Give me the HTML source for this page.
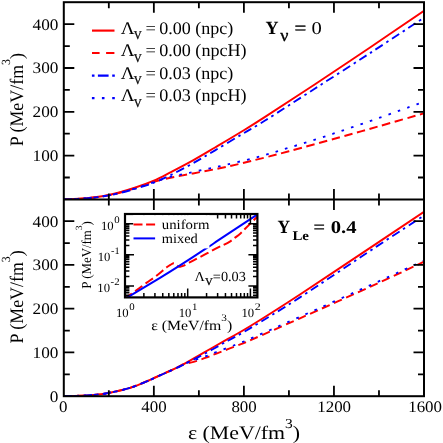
<!DOCTYPE html>
<html><head><meta charset="utf-8"><title>EOS</title><style>html,body{margin:0;padding:0;background:#fff;}text{font-family:"Liberation Serif",serif;text-rendering:geometricPrecision;}body{width:443px;height:443px;overflow:hidden;font-family:"Liberation Serif",serif;}</style></head><body>
<svg width="443" height="443" viewBox="0 0 443 443" style="display:block;will-change:transform">
<rect width="443" height="443" fill="#fff"/>
<defs><clipPath id="c1"><rect x="63.80" y="2.20" width="360.20" height="197.20"/></clipPath><clipPath id="c2"><rect x="63.80" y="199.40" width="360.20" height="196.80"/></clipPath></defs>
<g clip-path="url(#c1)">
<path d="M63.80 199.40 C67.55 199.22 78.81 199.03 86.31 198.31 C93.82 197.58 100.87 196.74 108.82 195.02 C116.78 193.30 126.53 190.40 134.04 188.01 C141.54 185.62 147.70 183.35 153.85 180.70 C160.00 178.05 164.43 175.49 170.96 172.11 C177.49 168.73 185.67 164.52 193.02 160.42 C200.38 156.32 206.75 152.44 215.08 147.50 C223.41 142.55 234.67 135.88 243.00 130.77 C251.33 125.66 253.06 124.60 265.06 116.84 C277.07 109.08 297.48 95.81 315.04 84.21 C332.60 72.60 352.26 59.44 370.42 47.19 C388.58 34.95 415.07 16.79 424.00 10.71" fill="none" stroke="#ff0000" stroke-width="1.95"/>
<path d="M63.80 199.40 C67.55 199.22 78.81 199.00 86.31 198.31 C93.82 197.61 101.32 196.74 108.82 195.24 C116.33 193.74 123.83 191.55 131.34 189.33 C138.84 187.10 149.20 183.38 153.85 181.88 C158.50 180.38 156.48 181.04 159.25 180.35 C162.03 179.65 164.88 178.87 170.51 177.72 C176.14 176.57 184.62 175.05 193.02 173.43 C201.43 171.81 211.44 170.02 220.94 168.00 C230.43 165.97 238.65 164.09 249.98 161.29 C261.31 158.50 273.92 155.24 288.93 151.22 C303.93 147.20 325.02 141.37 340.03 137.20 C355.04 133.04 364.98 130.23 378.98 126.25 C392.97 122.28 416.50 115.49 424.00 113.33" fill="none" stroke="#ff0000" stroke-width="1.95" stroke-dasharray="8.5 4.6" stroke-dashoffset="0"/>
<path d="M63.80 199.40 C67.55 199.22 78.81 198.97 86.31 198.31 C93.82 197.64 100.87 196.90 108.82 195.39 C116.78 193.87 126.53 191.33 134.04 189.21 C141.54 187.09 147.70 185.04 153.85 182.67 C160.00 180.29 164.43 178.19 170.96 174.96 C177.49 171.73 185.67 167.37 193.02 163.26 C200.38 159.16 206.75 155.29 215.08 150.34 C223.41 145.40 234.67 138.58 243.00 133.61 C251.33 128.65 253.06 128.06 265.06 120.55 C277.07 113.03 297.48 99.80 315.04 88.52 C332.60 77.24 352.26 64.67 370.42 52.87 C388.58 41.07 415.07 23.58 424.00 17.72" fill="none" stroke="#0000ff" stroke-width="1.85" stroke-dasharray="8.6 4.2 2.5 4.2" stroke-dashoffset="0"/>
<path d="M63.80 199.40 C67.55 199.23 78.81 199.05 86.31 198.39 C93.82 197.74 101.32 196.93 108.82 195.46 C116.33 193.98 123.83 191.77 131.34 189.55 C138.84 187.32 147.40 184.22 153.85 182.10 C160.30 179.98 164.13 178.39 170.06 176.84 C175.99 175.30 183.00 174.19 189.42 172.81 C195.84 171.44 203.64 169.67 208.56 168.61 C213.47 167.55 210.77 168.38 218.91 166.46 C227.05 164.55 245.74 160.26 257.41 157.13 C269.08 154.01 276.28 151.62 288.93 147.72 C301.57 143.81 318.27 138.66 333.27 133.70 C348.28 128.74 365.05 122.82 378.98 117.93 C392.90 113.04 409.29 107.06 416.80 104.35 C424.30 101.65 422.80 102.16 424.00 101.73" fill="none" stroke="#0000ff" stroke-width="1.85" stroke-dasharray="2.6 7.3" stroke-dashoffset="0"/>
</g>
<g clip-path="url(#c2)">
<path d="M63.80 396.20 C67.55 396.08 80.27 395.79 86.31 395.46 C92.35 395.12 96.29 394.61 100.05 394.19 C103.80 393.76 103.83 393.97 108.82 392.92 C113.82 391.87 123.12 390.06 129.99 387.89 C136.85 385.71 145.67 381.67 150.02 379.88 C154.38 378.09 151.45 379.23 156.10 377.12 C160.75 375.02 170.13 371.24 177.94 367.24 C185.74 363.23 194.60 357.83 202.93 353.11 C211.26 348.38 220.07 343.36 227.92 338.89 C235.76 334.42 237.97 333.69 249.98 326.29 C261.99 318.89 278.94 308.23 299.96 294.48 C320.97 280.74 355.37 257.60 376.05 243.82 C396.72 230.04 416.01 217.13 424.00 211.79" fill="none" stroke="#ff0000" stroke-width="1.95"/>
<path d="M63.80 396.20 C67.55 396.08 80.27 395.79 86.31 395.46 C92.35 395.12 96.29 394.61 100.05 394.19 C103.80 393.76 103.83 393.97 108.82 392.92 C113.82 391.87 123.12 390.06 129.99 387.89 C136.85 385.71 145.67 381.67 150.02 379.88 C154.38 378.09 151.45 379.23 156.10 377.12 C160.75 375.02 173.47 369.34 177.94 367.24 C182.40 365.13 180.26 365.38 182.89 364.48 C185.52 363.58 189.83 362.99 193.70 361.86 C197.56 360.73 202.29 359.09 206.08 357.70 C209.87 356.31 210.51 355.84 216.43 353.54 C222.36 351.25 235.57 346.32 241.65 343.92 C247.73 341.51 243.19 343.37 252.90 339.11 C262.62 334.84 279.43 327.49 299.96 318.32 C320.48 309.16 355.37 293.56 376.05 284.11 C396.72 274.67 416.01 265.41 424.00 261.67" fill="none" stroke="#ff0000" stroke-width="1.95" stroke-dasharray="8.5 4.6" stroke-dashoffset="0"/>
<path d="M63.80 396.20 C67.55 396.08 80.27 395.79 86.31 395.46 C92.35 395.12 96.29 394.61 100.05 394.19 C103.80 393.76 103.83 393.97 108.82 392.92 C113.82 391.87 123.12 390.06 129.99 387.89 C136.85 385.71 145.67 381.67 150.02 379.88 C154.38 378.09 151.45 379.21 156.10 377.12 C160.75 375.04 170.13 371.09 177.94 367.34 C185.74 363.60 194.60 359.12 202.93 354.68 C211.26 350.24 220.07 345.08 227.92 340.70 C235.76 336.32 237.97 335.59 249.98 328.37 C261.99 321.15 278.94 310.96 299.96 297.38 C320.97 283.80 355.37 260.53 376.05 246.88 C396.72 233.24 416.01 220.74 424.00 215.51" fill="none" stroke="#0000ff" stroke-width="1.85" stroke-dasharray="8.6 4.2 2.5 4.2" stroke-dashoffset="0"/>
<path d="M63.80 396.20 C67.55 396.08 80.27 395.79 86.31 395.46 C92.35 395.12 96.29 394.61 100.05 394.19 C103.80 393.76 103.83 393.97 108.82 392.92 C113.82 391.87 123.12 390.06 129.99 387.89 C136.85 385.71 145.67 381.67 150.02 379.88 C154.38 378.09 151.45 379.23 156.10 377.12 C160.75 375.02 173.47 369.34 177.94 367.24 C182.40 365.13 180.26 365.63 182.89 364.48 C185.52 363.33 189.83 361.71 193.70 360.32 C197.56 358.94 202.29 357.55 206.08 356.17 C209.87 354.78 210.51 354.31 216.43 352.01 C222.36 349.72 235.57 344.79 241.65 342.39 C247.73 339.98 243.19 341.84 252.90 337.57 C262.62 333.31 279.43 325.96 299.96 316.79 C320.48 307.63 355.37 291.95 376.05 282.58 C396.72 273.21 416.01 264.24 424.00 260.57" fill="none" stroke="#0000ff" stroke-width="1.85" stroke-dasharray="2.6 7.3" stroke-dashoffset="0"/>
</g>
<g stroke="#000" fill="none" stroke-linecap="butt">
<rect x="63.80" y="2.20" width="360.20" height="394.00" stroke-width="2.00"/>
<line x1="63.80" y1="199.40" x2="424.00" y2="199.40" stroke-width="2.00"/>
<path stroke-width="1.80" d="M108.82 2.20 L108.82 8.20 M108.82 193.40 L108.82 205.40 M108.82 390.20 L108.82 396.20 M153.85 2.20 L153.85 12.70 M153.85 188.90 L153.85 209.90 M153.85 385.70 L153.85 396.20 M198.88 2.20 L198.88 8.20 M198.88 193.40 L198.88 205.40 M198.88 390.20 L198.88 396.20 M243.90 2.20 L243.90 12.70 M243.90 188.90 L243.90 209.90 M243.90 385.70 L243.90 396.20 M288.93 2.20 L288.93 8.20 M288.93 193.40 L288.93 205.40 M288.93 390.20 L288.93 396.20 M333.95 2.20 L333.95 12.70 M333.95 188.90 L333.95 209.90 M333.95 385.70 L333.95 396.20 M378.98 2.20 L378.98 8.20 M378.98 193.40 L378.98 205.40 M378.98 390.20 L378.98 396.20 M63.80 177.50 L69.80 177.50 M418.00 177.50 L424.00 177.50 M63.80 374.32 L69.80 374.32 M418.00 374.32 L424.00 374.32 M63.80 155.60 L74.30 155.60 M413.50 155.60 L424.00 155.60 M63.80 352.45 L74.30 352.45 M413.50 352.45 L424.00 352.45 M63.80 133.70 L69.80 133.70 M418.00 133.70 L424.00 133.70 M63.80 330.57 L69.80 330.57 M418.00 330.57 L424.00 330.57 M63.80 111.80 L74.30 111.80 M413.50 111.80 L424.00 111.80 M63.80 308.70 L74.30 308.70 M413.50 308.70 L424.00 308.70 M63.80 89.90 L69.80 89.90 M418.00 89.90 L424.00 89.90 M63.80 286.82 L69.80 286.82 M418.00 286.82 L424.00 286.82 M63.80 68.00 L74.30 68.00 M413.50 68.00 L424.00 68.00 M63.80 264.95 L74.30 264.95 M413.50 264.95 L424.00 264.95 M63.80 46.10 L69.80 46.10 M418.00 46.10 L424.00 46.10 M63.80 243.07 L69.80 243.07 M418.00 243.07 L424.00 243.07 M63.80 24.20 L74.30 24.20 M413.50 24.20 L424.00 24.20 M63.80 221.20 L74.30 221.20 M413.50 221.20 L424.00 221.20"/>
</g>
<rect x="125.00" y="214.00" width="132.40" height="83.40" fill="#fff"/>
<defs><clipPath id="c3"><rect x="125.00" y="214.00" width="132.40" height="83.40"/></clipPath></defs>
<g clip-path="url(#c3)">
<path d="M124.50 298.70 C124.98 298.33 125.43 297.88 127.40 296.50 C129.37 295.12 133.13 292.67 136.30 290.40 C139.47 288.13 142.98 285.38 146.40 282.90 C149.82 280.42 153.42 278.10 156.80 275.50 C160.18 272.90 164.33 269.13 166.70 267.30 C169.07 265.47 169.82 265.18 171.00 264.50 C172.18 263.82 172.93 263.15 173.80 263.20 C174.67 263.25 175.38 264.23 176.20 264.80 C177.02 265.37 177.82 266.35 178.70 266.60 C179.58 266.85 180.55 266.50 181.50 266.30 C182.45 266.10 183.13 266.00 184.40 265.40 C185.67 264.80 187.18 263.75 189.10 262.70 C191.02 261.65 192.85 260.68 195.90 259.10 C198.95 257.52 203.68 255.17 207.40 253.20 C211.12 251.23 215.52 248.67 218.20 247.30 C220.88 245.93 221.48 246.00 223.50 245.00 C225.52 244.00 228.48 242.43 230.30 241.30 C232.12 240.17 232.70 239.52 234.40 238.20 C236.10 236.88 238.92 234.77 240.50 233.40 C242.08 232.03 242.43 231.47 243.90 230.00 C245.37 228.53 247.17 226.73 249.30 224.60 C251.43 222.47 255.17 218.72 256.70 217.20 C258.23 215.68 258.20 215.78 258.50 215.50" fill="none" stroke="#ff0000" stroke-width="2" stroke-dasharray="9 4"/>
<path d="M123.00 300.20 C124.08 299.53 123.33 299.93 129.50 296.20 C135.67 292.47 151.58 282.95 160.00 277.80 C168.42 272.65 172.00 270.40 180.00 265.30 C188.00 260.20 201.33 251.55 208.00 247.20 C214.67 242.85 211.87 244.58 220.00 239.20 C228.13 233.82 250.22 219.25 256.80 214.90 C263.38 210.55 259.05 213.40 259.50 213.10" fill="none" stroke="#0000ff" stroke-width="2"/>
</g>
<g stroke="#000" fill="none">
<rect x="125.00" y="214.00" width="132.40" height="83.40" stroke-width="2.2"/>
<path stroke-width="1.5" d="M143.87 297.40 L143.87 293.00 M143.87 214.00 L143.87 218.40 M154.92 297.40 L154.92 293.00 M154.92 214.00 L154.92 218.40 M162.75 297.40 L162.75 293.00 M162.75 214.00 L162.75 218.40 M168.83 297.40 L168.83 293.00 M168.83 214.00 L168.83 218.40 M173.79 297.40 L173.79 293.00 M173.79 214.00 L173.79 218.40 M177.99 297.40 L177.99 293.00 M177.99 214.00 L177.99 218.40 M181.62 297.40 L181.62 293.00 M181.62 214.00 L181.62 218.40 M184.83 297.40 L184.83 293.00 M184.83 214.00 L184.83 218.40 M187.70 297.40 L187.70 288.40 M187.70 214.00 L187.70 223.00 M206.57 297.40 L206.57 293.00 M206.57 214.00 L206.57 218.40 M217.62 297.40 L217.62 293.00 M217.62 214.00 L217.62 218.40 M225.45 297.40 L225.45 293.00 M225.45 214.00 L225.45 218.40 M231.53 297.40 L231.53 293.00 M231.53 214.00 L231.53 218.40 M236.49 297.40 L236.49 293.00 M236.49 214.00 L236.49 218.40 M240.69 297.40 L240.69 293.00 M240.69 214.00 L240.69 218.40 M244.32 297.40 L244.32 293.00 M244.32 214.00 L244.32 218.40 M247.53 297.40 L247.53 293.00 M247.53 214.00 L247.53 218.40 M250.40 297.40 L250.40 288.40 M250.40 214.00 L250.40 223.00 M125.00 295.26 L129.40 295.26 M257.40 295.26 L253.00 295.26 M125.00 292.80 L129.40 292.80 M257.40 292.80 L253.00 292.80 M125.00 290.72 L129.40 290.72 M257.40 290.72 L253.00 290.72 M125.00 288.91 L129.40 288.91 M257.40 288.91 L253.00 288.91 M125.00 287.32 L129.40 287.32 M257.40 287.32 L253.00 287.32 M125.00 285.90 L134.00 285.90 M257.40 285.90 L248.40 285.90 M125.00 276.54 L129.40 276.54 M257.40 276.54 L253.00 276.54 M125.00 271.06 L129.40 271.06 M257.40 271.06 L253.00 271.06 M125.00 267.18 L129.40 267.18 M257.40 267.18 L253.00 267.18 M125.00 264.16 L129.40 264.16 M257.40 264.16 L253.00 264.16 M125.00 261.70 L129.40 261.70 M257.40 261.70 L253.00 261.70 M125.00 259.62 L129.40 259.62 M257.40 259.62 L253.00 259.62 M125.00 257.81 L129.40 257.81 M257.40 257.81 L253.00 257.81 M125.00 256.22 L129.40 256.22 M257.40 256.22 L253.00 256.22 M125.00 254.80 L134.00 254.80 M257.40 254.80 L248.40 254.80 M125.00 245.44 L129.40 245.44 M257.40 245.44 L253.00 245.44 M125.00 239.96 L129.40 239.96 M257.40 239.96 L253.00 239.96 M125.00 236.08 L129.40 236.08 M257.40 236.08 L253.00 236.08 M125.00 233.06 L129.40 233.06 M257.40 233.06 L253.00 233.06 M125.00 230.60 L129.40 230.60 M257.40 230.60 L253.00 230.60 M125.00 228.52 L129.40 228.52 M257.40 228.52 L253.00 228.52 M125.00 226.71 L129.40 226.71 M257.40 226.71 L253.00 226.71 M125.00 225.12 L129.40 225.12 M257.40 225.12 L253.00 225.12 M125.00 223.70 L134.00 223.70 M257.40 223.70 L248.40 223.70"/>
</g>
<rect x="133.2" y="215.1" width="76.2" height="33.3" fill="#fff"/>
<line x1="133.5" y1="224.5" x2="155.1" y2="224.5" stroke="#ff0000" stroke-width="2" stroke-dasharray="9 3.6"/>
<line x1="133.5" y1="238.4" x2="155.1" y2="238.4" stroke="#0000ff" stroke-width="2"/>
<g class="t" fill="#000">
<text x="32.60" y="160.90" font-size="16.00" textLength="25.80" lengthAdjust="spacingAndGlyphs">100</text>
<text x="32.60" y="117.10" font-size="16.00" textLength="25.80" lengthAdjust="spacingAndGlyphs">200</text>
<text x="32.60" y="73.30" font-size="16.00" textLength="25.80" lengthAdjust="spacingAndGlyphs">300</text>
<text x="32.60" y="29.50" font-size="16.00" textLength="25.80" lengthAdjust="spacingAndGlyphs">400</text>
<text x="49.80" y="401.50" font-size="16.00" textLength="8.60" lengthAdjust="spacingAndGlyphs">0</text>
<text x="32.60" y="357.75" font-size="16.00" textLength="25.80" lengthAdjust="spacingAndGlyphs">100</text>
<text x="32.60" y="314.00" font-size="16.00" textLength="25.80" lengthAdjust="spacingAndGlyphs">200</text>
<text x="32.60" y="270.25" font-size="16.00" textLength="25.80" lengthAdjust="spacingAndGlyphs">300</text>
<text x="32.60" y="226.50" font-size="16.00" textLength="25.80" lengthAdjust="spacingAndGlyphs">400</text>
<text x="59.07" y="412.30" font-size="16.00" textLength="8.45" lengthAdjust="spacingAndGlyphs">0</text>
<text x="141.37" y="412.30" font-size="16.00" textLength="25.35" lengthAdjust="spacingAndGlyphs">400</text>
<text x="231.42" y="412.30" font-size="16.00" textLength="25.35" lengthAdjust="spacingAndGlyphs">800</text>
<text x="317.25" y="412.30" font-size="16.00" textLength="33.80" lengthAdjust="spacingAndGlyphs">1200</text>
<text x="408.20" y="412.30" font-size="16.00" textLength="33.80" lengthAdjust="spacingAndGlyphs">1600</text>
<text x="187.90" y="438.50" font-size="19.00" textLength="112.20" lengthAdjust="spacingAndGlyphs">ε (MeV/fm<tspan font-size="13.5" dy="-11">3</tspan><tspan dy="11">)</tspan></text>
<g transform="translate(22.70 146.30) rotate(-90)"><text font-size="19.00" textLength="93.20" lengthAdjust="spacingAndGlyphs">P (MeV/fm<tspan font-size="12.5" dy="-12.8">3</tspan><tspan dy="12.8">)</tspan></text></g>
<g transform="translate(22.70 343.50) rotate(-90)"><text font-size="19.00" textLength="93.20" lengthAdjust="spacingAndGlyphs">P (MeV/fm<tspan font-size="12.5" dy="-12.8">3</tspan><tspan dy="12.8">)</tspan></text></g>
<line x1="92" y1="30.60" x2="114.5" y2="30.60" stroke="#ff0000" stroke-width="2.15"/>
<path d="M92 53.00 h7.6 M106.1 53.00 h8.3" stroke="#ff0000" stroke-width="2.15" fill="none"/>
<path d="M91.9 75.60 h2.6 M97.9 75.60 h10.7 M112.2 75.60 h2.6" stroke="#0000ff" stroke-width="2.15" fill="none"/>
<path d="M91.9 98.10 h2.6 M101.9 98.10 h2.6 M112.2 98.10 h2.6" stroke="#0000ff" stroke-width="2.15" fill="none"/>
<text x="120.80" y="33.50" font-size="17.80" textLength="13.90" lengthAdjust="spacingAndGlyphs">Λ</text>
<g stroke="#000" stroke-width="0.3"><text x="133.80" y="39.30" font-size="12.00" textLength="8.00" lengthAdjust="spacingAndGlyphs">V</text></g>
<text x="145.60" y="33.50" font-size="17.80" textLength="10.40" lengthAdjust="spacingAndGlyphs">=</text>
<text x="159.20" y="33.50" font-size="17.80" textLength="74.20" lengthAdjust="spacingAndGlyphs">0.00 (npc)</text>
<text x="120.80" y="55.90" font-size="17.80" textLength="13.90" lengthAdjust="spacingAndGlyphs">Λ</text>
<g stroke="#000" stroke-width="0.3"><text x="133.80" y="61.70" font-size="12.00" textLength="8.00" lengthAdjust="spacingAndGlyphs">V</text></g>
<text x="145.60" y="55.90" font-size="17.80" textLength="10.40" lengthAdjust="spacingAndGlyphs">=</text>
<text x="159.20" y="55.90" font-size="17.80" textLength="87.40" lengthAdjust="spacingAndGlyphs">0.00 (npcH)</text>
<text x="120.80" y="78.50" font-size="17.80" textLength="13.90" lengthAdjust="spacingAndGlyphs">Λ</text>
<g stroke="#000" stroke-width="0.3"><text x="133.80" y="84.30" font-size="12.00" textLength="8.00" lengthAdjust="spacingAndGlyphs">V</text></g>
<text x="145.60" y="78.50" font-size="17.80" textLength="10.40" lengthAdjust="spacingAndGlyphs">=</text>
<text x="159.20" y="78.50" font-size="17.80" textLength="74.20" lengthAdjust="spacingAndGlyphs">0.03 (npc)</text>
<text x="120.80" y="101.00" font-size="17.80" textLength="13.90" lengthAdjust="spacingAndGlyphs">Λ</text>
<g stroke="#000" stroke-width="0.3"><text x="133.80" y="106.80" font-size="12.00" textLength="8.00" lengthAdjust="spacingAndGlyphs">V</text></g>
<text x="145.60" y="101.00" font-size="17.80" textLength="10.40" lengthAdjust="spacingAndGlyphs">=</text>
<text x="159.20" y="101.00" font-size="17.80" textLength="87.40" lengthAdjust="spacingAndGlyphs">0.03 (npcH)</text>
<text x="265.60" y="34.00" font-size="18.60" textLength="13.00" lengthAdjust="spacingAndGlyphs" font-weight="bold">Y</text>
<g stroke="#000" stroke-width="0.35">
<text x="280.30" y="41.40" font-size="17.50" textLength="8.20" lengthAdjust="spacingAndGlyphs">ν</text>
<text x="294.40" y="34.00" font-size="18.00" textLength="11.80" lengthAdjust="spacingAndGlyphs">=</text>
</g>
<text x="311.60" y="34.00" font-size="18.00" textLength="10.30" lengthAdjust="spacingAndGlyphs">0</text>
<text x="277.40" y="232.90" font-size="18.60" textLength="12.60" lengthAdjust="spacingAndGlyphs" font-weight="bold">Y</text>
<text x="292.40" y="240.20" font-size="13.30" textLength="16.60" lengthAdjust="spacingAndGlyphs" font-weight="bold">Le</text>
<text x="313.30" y="232.90" font-size="18.00" textLength="12.00" lengthAdjust="spacingAndGlyphs" font-weight="bold">=</text>
<text x="330.70" y="232.90" font-size="18.00" textLength="25.80" lengthAdjust="spacingAndGlyphs" font-weight="bold">0.4</text>
<text x="161.80" y="228.50" font-size="13.60" textLength="47.60" lengthAdjust="spacingAndGlyphs">uniform</text>
<text x="161.80" y="243.40" font-size="13.60" textLength="36.00" lengthAdjust="spacingAndGlyphs">mixed</text>
<text x="194.60" y="281.00" font-size="13.80" textLength="51.30" lengthAdjust="spacingAndGlyphs">Λ<tspan font-size="10.5" dy="4.3" stroke="#000" stroke-width="0.25">V</tspan><tspan dy="-4.3">=0.03</tspan></text>
<text x="114.20" y="223.00" font-size="10.00" textLength="5.40" lengthAdjust="spacingAndGlyphs">0</text><text x="100.90" y="230.30" font-size="12.60" textLength="12.70" lengthAdjust="spacingAndGlyphs">10</text>
<text x="111.00" y="254.10" font-size="10.00" textLength="8.60" lengthAdjust="spacingAndGlyphs">-1</text><text x="97.70" y="261.40" font-size="12.60" textLength="12.70" lengthAdjust="spacingAndGlyphs">10</text>
<text x="110.60" y="285.00" font-size="10.00" textLength="9.00" lengthAdjust="spacingAndGlyphs">-2</text><text x="97.30" y="292.30" font-size="12.60" textLength="12.70" lengthAdjust="spacingAndGlyphs">10</text>
<text x="129.20" y="309.50" font-size="10.00" textLength="5.40" lengthAdjust="spacingAndGlyphs">0</text><text x="115.90" y="316.80" font-size="12.60" textLength="12.70" lengthAdjust="spacingAndGlyphs">10</text>
<text x="192.00" y="309.50" font-size="10.00" textLength="5.40" lengthAdjust="spacingAndGlyphs">1</text><text x="178.70" y="316.80" font-size="12.60" textLength="12.70" lengthAdjust="spacingAndGlyphs">10</text>
<text x="254.70" y="309.50" font-size="10.00" textLength="6.00" lengthAdjust="spacingAndGlyphs">2</text><text x="241.40" y="316.80" font-size="12.60" textLength="12.70" lengthAdjust="spacingAndGlyphs">10</text>
<text x="151.20" y="329.50" font-size="14.00" textLength="81.00" lengthAdjust="spacingAndGlyphs">ε (MeV/fm<tspan font-size="10" dy="-8.8">3</tspan><tspan dy="8.8">)</tspan></text>
<g transform="translate(91.40 288.70) rotate(-90)"><text font-size="13.60" textLength="67.40" lengthAdjust="spacingAndGlyphs">P (MeV/fm<tspan font-size="9.5" dy="-9.2">3</tspan><tspan dy="9.2">)</tspan></text></g>
</g>
</svg>
</body></html>
